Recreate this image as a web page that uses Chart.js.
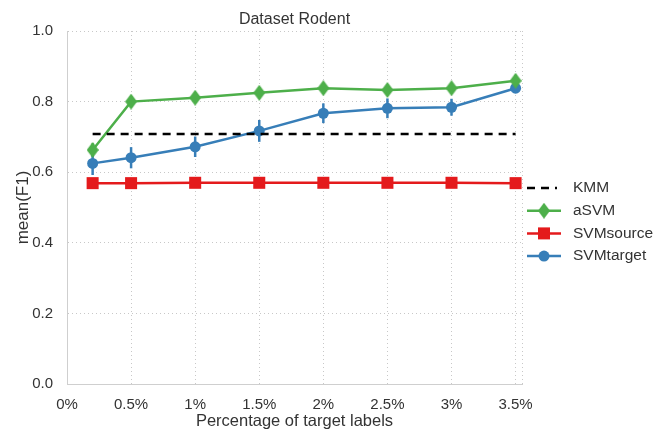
<!DOCTYPE html>
<html>
<head>
<meta charset="utf-8">
<script src="https://cdn.jsdelivr.net/npm/chart.js@4.4.1/dist/chart.umd.min.js"></script>
<style>
  html, body { margin: 0; padding: 0; background: #fff; }
  #wrap { width: 660px; height: 430px; }
</style>
</head>
<body>
<div id="wrap"><canvas id="rodentChart"></canvas></div>
<script>
// percentage of target labels (x values)
const pct = [0.2, 0.5, 1, 1.5, 2, 2.5, 3, 3.5];

const kmm = [0.708, 0.708, 0.708, 0.708, 0.708, 0.708, 0.708, 0.708];
const aSVM = [0.663, 0.800, 0.811, 0.825, 0.838, 0.833, 0.838, 0.859];
const aSVMErr = [0.019, 0.016, 0.015, 0.016, 0.015, 0.015, 0.015, 0.017];
const svmSource = [0.569, 0.569, 0.570, 0.570, 0.570, 0.570, 0.570, 0.569];
const svmSourceErr = [0.004, 0.004, 0.004, 0.004, 0.004, 0.004, 0.004, 0.004];
const svmTarget = [0.625, 0.641, 0.672, 0.717, 0.767, 0.781, 0.784, 0.838];
const svmTargetErr = [0.033, 0.030, 0.029, 0.031, 0.028, 0.028, 0.024, 0.012];

const xTickValues = [0, 0.5, 1, 1.5, 2, 2.5, 3, 3.5];
const xTickLabels = ["0%", "0.5%", "1%", "1.5%", "2%", "2.5%", "3%", "3.5%"];
const xMax = 3.55;

const GREEN = "#4daf4a";
const RED = "#e41a1c";
const BLUE = "#377eb8";

Chart.defaults.font.family = "'Liberation Sans', Arial, sans-serif";
Chart.defaults.color = "#333";

// thin diamond marker like matplotlib's "d"
function thinDiamond(w, h, color) {
  const c = document.createElement("canvas");
  c.width = w;
  c.height = h;
  const g = c.getContext("2d");
  g.fillStyle = color;
  g.beginPath();
  g.moveTo(w / 2, 0);
  g.lineTo(w, h / 2);
  g.lineTo(w / 2, h);
  g.lineTo(0, h / 2);
  g.closePath();
  g.fill();
  return c;
}
const diamond = thinDiamond(12, 16, GREEN);

const pts = (ys) => pct.map((x, i) => ({ x: x, y: ys[i] }));

const errorBars = {
  id: "errorBars",
  beforeDatasetsDraw(chart) {
    const { ctx, scales } = chart;
    chart.data.datasets.forEach((ds) => {
      if (!ds.err) return;
      ctx.save();
      ctx.strokeStyle = ds.borderColor;
      ctx.lineWidth = 2.5;
      ds.data.forEach((p, i) => {
        const x = scales.x.getPixelForValue(p.x);
        ctx.beginPath();
        ctx.moveTo(x, scales.y.getPixelForValue(p.y - ds.err[i]));
        ctx.lineTo(x, scales.y.getPixelForValue(p.y + ds.err[i]));
        ctx.stroke();
      });
      ctx.restore();
    });
  }
};

const sideLegend = {
  id: "sideLegend",
  afterDraw(chart) {
    const { ctx, chartArea } = chart;
    const x0 = chartArea.right + 5;
    const len = 34;
    let y = chartArea.top + 157;
    ctx.save();
    chart.data.datasets.forEach((ds) => {
      ctx.strokeStyle = ds.borderColor;
      ctx.lineWidth = 2.5;
      ctx.setLineDash(ds.borderDash || []);
      ctx.beginPath();
      ctx.moveTo(x0, y);
      ctx.lineTo(x0 + (ds.borderDash ? 30 : len), y);
      ctx.stroke();
      ctx.setLineDash([]);
      const cx = x0 + len / 2;
      ctx.fillStyle = ds.borderColor;
      if (ds.marker === "diamond") {
        ctx.drawImage(diamond, cx - diamond.width / 2, y - diamond.height / 2);
      } else if (ds.marker === "square") {
        ctx.fillRect(cx - 6, y - 6, 12, 12);
      } else if (ds.marker === "circle") {
        ctx.beginPath();
        ctx.arc(cx, y, 5.5, 0, Math.PI * 2);
        ctx.fill();
      }
      ctx.fillStyle = "#333";
      ctx.font = "15.5px 'Liberation Sans', Arial, sans-serif";
      ctx.textBaseline = "middle";
      ctx.textAlign = "left";
      ctx.fillText(ds.label, x0 + 46, y);
      y += 22.7;
    });
    ctx.restore();
  }
};

const ctx = document.getElementById("rodentChart");

new Chart(ctx, {
  type: "line",
  data: {
    datasets: [
      {
        label: "KMM",
        data: pts(kmm),
        borderColor: "#000",
        borderWidth: 2.5,
        borderDash: [8, 6],
        pointRadius: 0
      },
      {
        label: "aSVM",
        data: pts(aSVM),
        err: aSVMErr,
        marker: "diamond",
        borderColor: GREEN,
        backgroundColor: GREEN,
        borderWidth: 2.5,
        pointStyle: diamond,
        pointRadius: 7
      },
      {
        label: "SVMsource",
        data: pts(svmSource),
        err: svmSourceErr,
        marker: "square",
        borderColor: RED,
        backgroundColor: RED,
        borderWidth: 2.5,
        pointStyle: "rect",
        pointRadius: 8.5,
        pointBorderWidth: 0
      },
      {
        label: "SVMtarget",
        data: pts(svmTarget),
        err: svmTargetErr,
        marker: "circle",
        borderColor: BLUE,
        backgroundColor: BLUE,
        borderWidth: 2.5,
        pointStyle: "circle",
        pointRadius: 5.5,
        pointBorderWidth: 0
      }
    ]
  },
  options: {
    responsive: true,
    maintainAspectRatio: false,
    animation: false,
    layout: { padding: { left: 0, right: 138, top: 0, bottom: 0 } },
    plugins: {
      legend: { display: false },
      tooltip: { enabled: false },
      title: {
        display: true,
        text: "Dataset Rodent",
        fullSize: false,
        color: "#333",
        font: { size: 16, weight: "normal", lineHeight: 1.2 },
        padding: { top: 9.5, bottom: 2.3 }
      }
    },
    scales: {
      x: {
        type: "linear",
        min: 0,
        max: xMax,
        afterBuildTicks: (scale) => {
          scale.ticks = xTickValues.map((v) => ({ value: v })).concat([{ value: xMax }]);
        },
        afterFit: (scale) => { scale.height = 46; },
        ticks: {
          padding: 12,
          maxRotation: 0,
          font: { size: 15 },
          callback: (value) => {
            const i = xTickValues.findIndex((v) => Math.abs(v - value) < 1e-6);
            return i >= 0 ? xTickLabels[i] : "";
          }
        },
        grid: { color: "#c8c8c8", lineWidth: 1, drawTicks: false },
        border: { color: "#cfcfcf", width: 1, dash: [1, 3] },
        title: {
          display: true,
          text: "Percentage of target labels",
          font: { size: 16.5, lineHeight: 1 },
          padding: { top: 0, bottom: 0 }
        }
      },
      y: {
        min: 0,
        max: 1,
        afterFit: (scale) => { scale.width = 67; },
        ticks: {
          stepSize: 0.2,
          padding: 14,
          font: { size: 15 },
          callback: (value) => value.toFixed(1)
        },
        grid: { color: "#c8c8c8", lineWidth: 1, drawTicks: false },
        border: { color: "#cfcfcf", width: 1, dash: [1, 3] },
        title: {
          display: true,
          text: "mean(F1)",
          font: { size: 17, lineHeight: 1 },
          padding: { top: 15, bottom: 0 }
        }
      }
    }
  },
  plugins: [errorBars, sideLegend]
});
</script>
</body>
</html>
